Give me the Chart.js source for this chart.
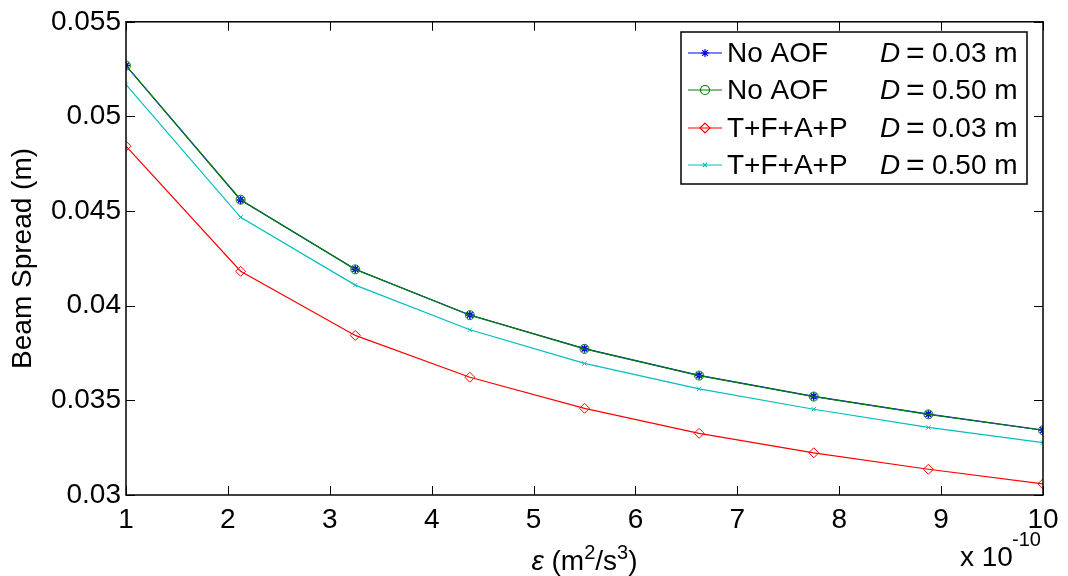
<!DOCTYPE html>
<html lang="en">
<head>
    <meta charset="UTF-8">
    <title>Beam Spread</title>
    <script src="https://cdn.jsdelivr.net/npm/chart.js"></script>
    <style>
        html, body { margin: 0; padding: 0; background: #fff; }
        #wrap { width: 1068px; height: 576px; }
    </style>
</head>
<body>
    <div id="wrap"><canvas id="beamChart" width="1068" height="576"></canvas></div>
    <script>
        // epsilon values (x 10^-10 m^2/s^3)
        const epsilon = [1, 2.125, 3.25, 4.375, 5.5, 6.625, 7.75, 8.875, 10];

        // beam spread (m)
        const noAof003 = [0.05269, 0.04559, 0.04193, 0.03951, 0.03773, 0.03632, 0.03521, 0.03427, 0.03343];
        const noAof050 = [0.05269, 0.04560, 0.04192, 0.03950, 0.03772, 0.03631, 0.03520, 0.03426, 0.03342];
        const tfap003 = [0.04843, 0.04182, 0.03843, 0.03622, 0.03458, 0.03326, 0.03223, 0.03136, 0.03059];
        const tfap050 = [0.05168, 0.04467, 0.04109, 0.03873, 0.03695, 0.03561, 0.03453, 0.03357, 0.03277];

        const seriesNames = ['No AOF', 'No AOF', 'T+F+A+P', 'T+F+A+P'];
        const diameters = ['0.03', '0.50', '0.03', '0.50'];

        const xTicks = [1, 2, 3, 4, 5, 6, 7, 8, 9, 10];
        const yTickLabels = ['0.03', '0.035', '0.04', '0.045', '0.05', '0.055'];

        const FONT = "'Liberation Sans', Arial, sans-serif";

        function toPoints(ys) {
            return ys.map((y, i) => ({ x: epsilon[i], y: y }));
        }

        // draws a run of [text, font, dy] pieces, centred on cx
        function drawRich(ctx, parts, cx, y) {
            let w = 0;
            parts.forEach(p => { ctx.font = p[1]; w += ctx.measureText(p[0]).width; });
            let x = cx - w / 2;
            parts.forEach(p => {
                ctx.font = p[1];
                ctx.fillText(p[0], x, y + p[2]);
                x += ctx.measureText(p[0]).width;
            });
        }

        // MATLAB-like box, inward ticks, axis label, exponent and two-column legend
        const matlabFrame = {
            id: 'matlabFrame',
            afterDraw(chart) {
                const ctx = chart.ctx;
                const a = chart.chartArea;
                const xs = chart.scales.x;
                const ys = chart.scales.y;
                const tl = 9;

                ctx.save();
                ctx.strokeStyle = '#000';
                ctx.lineWidth = 1.5;
                ctx.strokeRect(a.left, a.top, a.right - a.left, a.bottom - a.top);

                ctx.lineWidth = 1;
                ctx.beginPath();
                xTicks.forEach(v => {
                    const px = Math.round(xs.getPixelForValue(v)) + 0.5;
                    ctx.moveTo(px, a.bottom); ctx.lineTo(px, a.bottom - tl);
                    ctx.moveTo(px, a.top); ctx.lineTo(px, a.top + tl);
                });
                yTickLabels.forEach(t => {
                    const py = Math.round(ys.getPixelForValue(parseFloat(t))) + 0.5;
                    ctx.moveTo(a.left, py); ctx.lineTo(a.left + tl, py);
                    ctx.moveTo(a.right, py); ctx.lineTo(a.right - tl, py);
                });
                ctx.stroke();

                ctx.fillStyle = '#000';
                ctx.textBaseline = 'alphabetic';
                ctx.textAlign = 'left';

                // x-axis label
                const big = '28px ' + FONT, small = '20px ' + FONT;
                drawRich(ctx, [
                    ['ε', 'italic 28px ' + FONT, 0],
                    [' (m', big, 0],
                    ['2', small, -11],
                    ['/s', big, 0],
                    ['3', small, -11],
                    [')', big, 0]
                ], (a.left + a.right) / 2, 570);

                // x 10^-10
                ctx.font = big;
                ctx.fillText('x 10', 960, 566);
                ctx.font = small;
                ctx.fillText('-10', 1012, 546);

                // legend
                const lx = 681, ly = 32, lw = 346, lh = 152;
                ctx.fillStyle = '#fff';
                ctx.fillRect(lx, ly, lw, lh);
                ctx.strokeStyle = '#000';
                ctx.lineWidth = 1.5;
                ctx.strokeRect(lx, ly, lw, lh);

                const rowY = [53, 90, 128, 165];
                chart.data.datasets.forEach((ds, i) => {
                    const y = rowY[i];
                    ctx.strokeStyle = ds.borderColor;
                    ctx.lineWidth = 1.2;
                    ctx.beginPath();
                    ctx.moveTo(688, y); ctx.lineTo(722, y);
                    ctx.stroke();
                    ctx.fillStyle = 'rgba(0,0,0,0)';
                    ctx.strokeStyle = ds.pointBorderColor;
                    Chart.helpers.drawPoint(ctx, {
                        pointStyle: ds.pointStyle,
                        radius: ds.pointRadius,
                        borderWidth: ds.pointBorderWidth,
                        rotation: 0
                    }, 705, y);

                    ctx.fillStyle = '#000';
                    ctx.textBaseline = 'middle';
                    ctx.textAlign = 'left';
                    ctx.font = big;
                    ctx.fillText(seriesNames[i], 727, y + 1);
                    ctx.font = 'italic 28px ' + FONT;
                    ctx.fillText('D', 880, y + 1);
                    ctx.font = '32px ' + FONT;
                    ctx.fillText('=', 906, y + 1);
                    ctx.font = big;
                    ctx.fillText(diameters[i] + ' m', 932, y + 1);
                });
                ctx.restore();
            }
        };

        const ctx = document.getElementById('beamChart').getContext('2d');
        new Chart(ctx, {
            type: 'line',
            data: {
                datasets: [{
                    label: 'No AOF D = 0.03 m',
                    data: toPoints(noAof003),
                    borderColor: '#0000ff',
                    pointBorderColor: '#0000ff',
                    pointBackgroundColor: 'rgba(0,0,0,0)',
                    pointStyle: 'star',
                    pointRadius: 4,
                    pointBorderWidth: 1.5,
                    borderWidth: 1.2,
                    order: 4
                }, {
                    label: 'No AOF D = 0.50 m',
                    data: toPoints(noAof050),
                    borderColor: '#008000',
                    pointBorderColor: '#008000',
                    pointBackgroundColor: 'rgba(0,0,0,0)',
                    pointStyle: 'circle',
                    pointRadius: 4.5,
                    pointBorderWidth: 1,
                    borderWidth: 1.2,
                    order: 3
                }, {
                    label: 'T+F+A+P D = 0.03 m',
                    data: toPoints(tfap003),
                    borderColor: '#ff0000',
                    pointBorderColor: '#ff0000',
                    pointBackgroundColor: 'rgba(0,0,0,0)',
                    pointStyle: 'rectRot',
                    pointRadius: 5,
                    pointBorderWidth: 1,
                    borderWidth: 1.2,
                    order: 2
                }, {
                    label: 'T+F+A+P D = 0.50 m',
                    data: toPoints(tfap050),
                    borderColor: '#00bfbf',
                    pointBorderColor: '#00bfbf',
                    pointBackgroundColor: 'rgba(0,0,0,0)',
                    pointStyle: 'crossRot',
                    pointRadius: 3,
                    pointBorderWidth: 1,
                    borderWidth: 1.2,
                    order: 1
                }]
            },
            options: {
                responsive: false,
                animation: false,
                layout: { padding: { top: 16, right: 25, left: 0, bottom: 0 } },
                elements: { line: { tension: 0 } },
                scales: {
                    x: {
                        type: 'linear',
                        min: 1,
                        max: 10,
                        afterFit: s => { s.height = 81; },
                        afterBuildTicks: s => { s.ticks = xTicks.map(v => ({ value: v })); },
                        grid: { display: false, drawTicks: false },
                        border: { display: false },
                        ticks: {
                            color: '#000',
                            padding: 8,
                            maxRotation: 0,
                            font: { family: FONT, size: 28 },
                            callback: v => String(v)
                        },
                        title: { display: false }
                    },
                    y: {
                        type: 'linear',
                        min: 0.03,
                        max: 0.055,
                        afterFit: s => { s.width = 126; },
                        afterBuildTicks: s => { s.ticks = yTickLabels.map(t => ({ value: parseFloat(t) })); },
                        grid: { display: false, drawTicks: false },
                        border: { display: false },
                        ticks: {
                            color: '#000',
                            padding: 5,
                            font: { family: FONT, size: 28 },
                            callback: (v, i) => yTickLabels[i]
                        },
                        title: {
                            display: true,
                            text: 'Beam Spread (m)',
                            color: '#000',
                            font: { family: FONT, size: 28, lineHeight: 1 },
                            padding: { top: 9, bottom: 0 }
                        }
                    }
                },
                plugins: {
                    legend: { display: false },
                    tooltip: { enabled: false }
                }
            },
            plugins: [matlabFrame]
        });
    </script>
</body>
</html>
